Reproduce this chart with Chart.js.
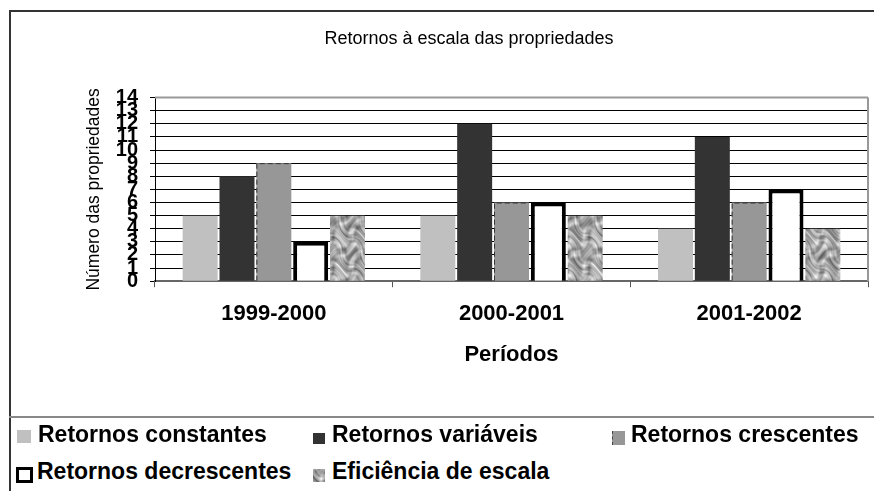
<!DOCTYPE html>
<html lang="pt">
<head>
<meta charset="utf-8">
<title>Retornos à escala das propriedades</title>
<script src="https://cdn.jsdelivr.net/npm/chart.js@4.4.1/dist/chart.umd.min.js"></script>
<style>
    html, body { margin: 0; padding: 0; background: #fff; }
    body { width: 874px; height: 491px; position: relative; overflow: hidden; font-family: "Liberation Sans", Arial, sans-serif; }
    .chart-wrap { position: absolute; left: 0; top: 0; width: 874px; height: 417px; }
    .frame-top { position: absolute; left: 9px; top: 10px; width: 865px; height: 0; border-top: 2px solid #333; }
    .frame-left { position: absolute; left: 9px; top: 10px; width: 0; height: 481px; border-left: 2px solid #333; }
    .frame-bottom { position: absolute; left: 9px; top: 416px; width: 865px; height: 0; border-top: 2px solid #888; }
    .legend-item { position: absolute; height: 26px; line-height: 26px; white-space: nowrap; font-weight: bold; font-size: 23px; color: #000; }
    .legend-box { position: absolute; box-sizing: border-box; }
</style>
</head>
<body>
<div class="chart-wrap"><canvas id="returnsChart" width="874" height="417"></canvas></div>
<div class="frame-top"></div>
<div class="frame-left"></div>
<div class="frame-bottom"></div>
<div id="legend"></div>

<script>
// Data
const periods = ['1999-2000', '2000-2001', '2001-2002'];
const constantReturns = [5, 5, 4];
const variableReturns = [8, 12, 11];
const increasingReturns = [9, 6, 6];
const decreasingReturns = [3, 6, 7];
const scaleEfficiency = [5, 5, 4];
const yTicks = [0, 1, 2, 3, 4, 5, 6, 7, 8, 9, 10, 11, 12, 13, 14];

const seriesNames = ['Retornos constantes', 'Retornos variáveis', 'Retornos crescentes', 'Retornos decrescentes', 'Eficiência de escala'];

document.addEventListener('DOMContentLoaded', function() {
    const FONT = '"Liberation Sans", Arial, sans-serif';

    // Mottled grey texture for "Eficiência de escala" (seamless tile)
    function makeTexture() {
        const N = 64;
        const c = document.createElement('canvas');
        c.width = N;
        c.height = N;
        const g = c.getContext('2d');
        const img = g.createImageData(N, N);
        const T = Math.PI * 2 / N;
        for (let y = 0; y < N; y++) {
            for (let x = 0; x < N; x++) {
                // warp the coordinates a little so the blobs look irregular
                const wx = x + 4 * Math.sin(y * T * 2 + 0.8);
                const wy = y + 4 * Math.cos(x * T * 3 + 1.7);
                let v = 0;
                v += Math.sin(wx * T * 3 + 1.3) * Math.cos(wy * T * 4 + 0.4);
                v += 0.7 * Math.sin(wx * T * 5 + wy * T * 2 + 2.1);
                v += 0.6 * Math.cos(wx * T * 4 - wy * T * 7 + 0.7);
                v += 0.45 * Math.sin(wx * T * 9 + 0.2) * Math.sin(wy * T * 8 + 1.9);
                v += 0.3 * Math.cos(wx * T * 13 - wy * T * 11 + 0.5);
                let shade = 168 + 30 * v;
                shade = Math.max(80, Math.min(238, shade));
                const i = (y * N + x) * 4;
                img.data[i] = shade;
                img.data[i + 1] = shade;
                img.data[i + 2] = shade;
                img.data[i + 3] = 255;
            }
        }
        g.putImageData(img, 0, 0);
        return c;
    }
    const textureCanvas = makeTexture();
    const ctx = document.getElementById('returnsChart').getContext('2d');
    const texture = ctx.createPattern(textureCanvas, 'repeat');

    // Dashed outline on the "Retornos crescentes" bars
    const dashedOutline = {
        id: 'dashedOutline',
        afterDatasetsDraw(chart) {
            const meta = chart.getDatasetMeta(2);
            const c = chart.ctx;
            c.save();
            c.strokeStyle = '#333';
            c.lineWidth = 1;
            c.setLineDash([5, 3]);
            meta.data.forEach(bar => {
                const left = bar.x - bar.width / 2;
                c.beginPath();
                c.moveTo(left + 0.5, bar.base);
                c.lineTo(left + 0.5, bar.y + 0.5);
                c.lineTo(left + bar.width, bar.y + 0.5);
                c.stroke();
            });
            c.restore();
        }
    };

    // Grey right and top edges of the plot area
    const plotEdge = {
        id: 'plotEdge',
        beforeDatasetsDraw(chart) {
            const a = chart.chartArea;
            const c = chart.ctx;
            c.save();
            c.strokeStyle = '#999';
            c.lineWidth = 2;
            c.beginPath();
            c.moveTo(a.right, a.top);
            c.lineTo(a.right, a.bottom);
            c.moveTo(a.left, a.top);
            c.lineTo(a.right, a.top);
            c.stroke();
            c.restore();
        }
    };

    const chart = new Chart(ctx, {
        type: 'bar',
        data: {
            labels: periods,
            datasets: [
                { label: seriesNames[0], data: constantReturns, backgroundColor: '#c0c0c0', borderWidth: 0 },
                { label: seriesNames[1], data: variableReturns, backgroundColor: '#333333', borderWidth: 0 },
                { label: seriesNames[2], data: increasingReturns, backgroundColor: '#979797', borderWidth: 0 },
                { label: seriesNames[3], data: decreasingReturns, backgroundColor: '#ffffff', borderColor: '#000000', borderWidth: 4, borderSkipped: 'bottom' },
                { label: seriesNames[4], data: scaleEfficiency, backgroundColor: texture, borderWidth: 0 }
            ]
        },
        options: {
            responsive: false,
            animation: false,
            categoryPercentage: 0.775,
            barPercentage: 0.95,
            layout: { padding: { left: 70, right: 6, top: 11, bottom: 49 } },
            plugins: {
                legend: { display: false },
                tooltip: { enabled: false },
                title: {
                    display: true,
                    text: 'Retornos à escala das propriedades',
                    color: '#000',
                    font: { family: FONT, size: 18, weight: 'normal' },
                    padding: { top: 17, bottom: 48 }
                }
            },
            scales: {
                x: {
                    grid: { drawOnChartArea: false, offset: true, tickLength: 6, color: '#555' },
                    border: { color: '#666', width: 2 },
                    ticks: { color: '#000', padding: 14, font: { family: FONT, size: 22, weight: 'bold' } },
                    title: {
                        display: true,
                        text: 'Períodos',
                        color: '#000',
                        font: { family: FONT, size: 22, weight: 'bold' },
                        padding: { top: 0, bottom: 0 }
                    }
                },
                y: {
                    min: 0,
                    max: 14,
                    afterBuildTicks: scale => { scale.ticks = yTicks.map(v => ({ value: v })); },
                    afterFit: scale => { scale.width = 85; },
                    grid: {
                        color: c => (c.tick && c.tick.value === 14) ? '#aaa' : '#000',
                        lineWidth: 1,
                        tickLength: 5,
                        tickColor: '#000'
                    },
                    border: { color: '#000', width: 1 },
                    ticks: {
                        color: '#000',
                        padding: 12,
                        autoSkip: false,
                        font: { family: FONT, size: 20, weight: 'bold' }
                    },
                    title: {
                        display: true,
                        text: 'Número das propriedades',
                        color: '#000',
                        font: { family: FONT, size: 17.5, weight: 'normal' },
                        padding: { top: 14, bottom: 0 }
                    }
                }
            }
        },
        plugins: [plotEdge, dashedOutline]
    });

    // HTML legend built from the chart datasets
    const legendEl = document.getElementById('legend');
    const slots = [
        { x: 17, y: 421, box: [0, 9, 14, 13] },
        { x: 313, y: 421, box: [0, 12, 12, 11] },
        { x: 612, y: 421, box: [0, 10, 13, 14] },
        { x: 16, y: 458, box: [0, 9, 17, 16] },
        { x: 313, y: 458, box: [0, 11, 12, 13] }
    ];
    chart.data.datasets.forEach((ds, i) => {
        const s = slots[i];
        const item = document.createElement('div');
        item.className = 'legend-item';
        item.style.left = s.x + 'px';
        item.style.top = s.y + 'px';

        const box = document.createElement('span');
        box.className = 'legend-box';
        box.style.left = s.box[0] + 'px';
        box.style.top = s.box[1] + 'px';
        box.style.width = s.box[2] + 'px';
        box.style.height = s.box[3] + 'px';
        if (i === 4) {
            box.style.background = 'url(' + textureCanvas.toDataURL() + ')';
        } else {
            box.style.background = ds.backgroundColor;
        }
        if (ds.borderWidth) {
            box.style.border = '3px solid ' + ds.borderColor;
        }
        if (i === 2) {
            box.style.borderLeft = '1px dashed #444';
        }

        const text = document.createElement('span');
        text.textContent = ds.label;
        text.style.position = 'absolute';
        text.style.left = (i === 0 || i === 3 ? 21 : 19) + 'px';
        text.style.top = '0px';

        item.appendChild(box);
        item.appendChild(text);
        legendEl.appendChild(item);
    });
});
</script>
</body>
</html>
